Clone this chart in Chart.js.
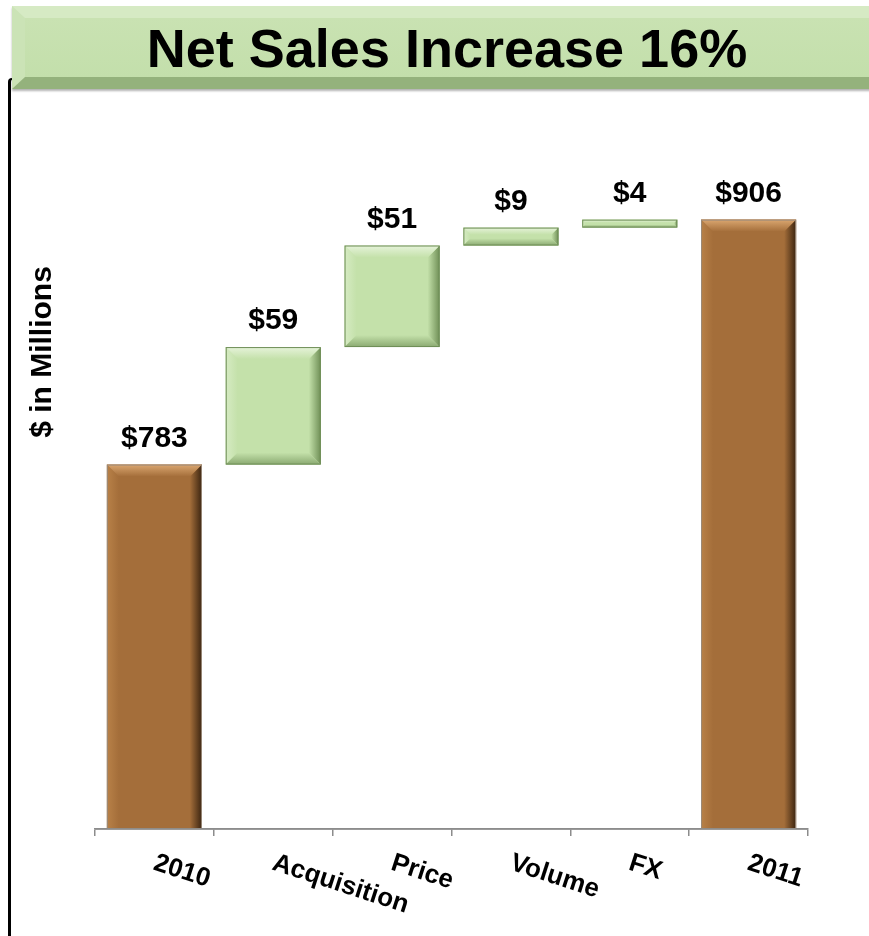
<!DOCTYPE html>
<html>
<head>
<meta charset="utf-8">
<script src="https://cdn.jsdelivr.net/npm/chart.js@4"></script>
<style>
html, body { margin: 0; padding: 0; background: #fff; width: 869px; height: 936px; overflow: hidden; }
#bracket { position: absolute; left: 8px; top: 78px; width: 8px; height: 880px; border-left: 3px solid #000; border-top: 2px solid #000; border-top-left-radius: 4px; box-sizing: border-box; }
#banner { position: absolute; left: 12px; top: 6px; width: 880px; height: 83px; box-sizing: border-box;
  border-style: solid; border-width: 12px 12px 12px 13px;
  border-color: #d6eac4 #9fbd87 #94b27c #cbe3b6;
  background: linear-gradient(#c9e2b2, #c3dfab);
  box-shadow: 0 2px 2px rgba(0,0,0,.3); }
#title { position: absolute; left: 0; top: 18px; width: 894px; height: 60px; line-height: 60px; text-align: center;
  font-family: "Liberation Sans", Arial, sans-serif; font-weight: bold; font-size: 54px; color: #000; }
#wrap { position: absolute; left: 0; top: 0; width: 869px; height: 936px; }
</style>
</head>
<body>
<div id="bracket"></div>
<div id="banner"></div>
<div id="title">Net Sales Increase 16%</div>
<div id="wrap"><canvas id="myChart"></canvas></div>
<script>
// waterfall data
const categories = ["2010", "Acquisition", "Price", "Volume", "FX", "2011"];
const amounts = [783, 59, 51, 9, 4, 906];
const isTotal = [true, false, false, false, false, true];
const valueLabels = ["$783", "$59", "$51", "$9", "$4", "$906"];
const yTitle = "$ in Millions";
const yMin = 600;
const yMax = 950;

// build floating bars from the running total
let running = 0;
const barData = amounts.map((v, i) => {
  if (isTotal[i]) { running = v; return v; }
  const start = running;
  running += v;
  return [start, running];
});

const brown = { base: "#a46e3a", top: "#dba771", left: "#b88148", right: "#3b2410", bottom: "#7a4e27", line: "#9a8a7a" };
const green = { base: "#c4e1aa", top: "#e6f3da", left: "#d6ebc3", right: "#6f8f56", bottom: "#8aa971", line: "#6e8d56" };

const FONT = '"Liberation Sans", Arial, sans-serif';

const decor = {
  id: "decor",
  afterDatasetsDraw(chart) {
    const ctx = chart.ctx;
    const meta = chart.getDatasetMeta(0);
    meta.data.forEach((bar, i) => {
      const c = isTotal[i] ? brown : green;
      const w = bar.width;
      const l = bar.x - w / 2, r = bar.x + w / 2;
      const t = Math.min(bar.y, bar.base), b = Math.max(bar.y, bar.base);
      const bv = Math.min(12, (b - t) / 2.5, w / 4);
      const bb = isTotal[i] ? 0 : bv;
      const poly = (pts, fill) => {
        ctx.beginPath();
        ctx.moveTo(pts[0][0], pts[0][1]);
        for (let k = 1; k < pts.length; k++) ctx.lineTo(pts[k][0], pts[k][1]);
        ctx.closePath();
        ctx.fillStyle = fill;
        ctx.fill();
      };
      const grad = (x0, y0, x1, y1, a, z) => {
        const g = ctx.createLinearGradient(x0, y0, x1, y1);
        g.addColorStop(0, a);
        g.addColorStop(1, z);
        return g;
      };
      ctx.save();
      poly([[l, t], [l + bv, t + bv], [l + bv, b - bb], [l, b]], grad(l, 0, l + bv, 0, c.left, c.base));
      poly([[r, t], [r, b], [r - bv, b - bb], [r - bv, t + bv]], grad(r - bv, 0, r, 0, c.base, c.right));
      poly([[l, t], [r, t], [r - bv, t + bv], [l + bv, t + bv]], grad(0, t, 0, t + bv, c.top, c.base));
      if (bb > 0) poly([[l, b], [r, b], [r - bb, b - bb], [l + bb, b - bb]], grad(0, b - bb, 0, b, c.base, c.bottom));
      ctx.strokeStyle = c.line;
      ctx.lineWidth = 1;
      ctx.strokeRect(l + 0.5, t + 0.5, w - 1, b - t - 1);
      // value label
      ctx.fillStyle = "#000";
      ctx.font = "bold 30px " + FONT;
      ctx.textAlign = "center";
      ctx.textBaseline = "alphabetic";
      ctx.fillText(valueLabels[i], bar.x, t - 18);
      ctx.restore();
    });
    // axis line sits on top of the bars
    const x = chart.scales.x;
    ctx.save();
    ctx.strokeStyle = "#8c8c8c";
    ctx.lineWidth = 1.5;
    ctx.beginPath();
    ctx.moveTo(x.left, x.top);
    ctx.lineTo(x.right, x.top);
    ctx.stroke();
    ctx.restore();
  },
  afterDraw(chart) {
    const ctx = chart.ctx;
    const x = chart.scales.x;
    ctx.save();
    ctx.fillStyle = "#000";
    ctx.font = "bold 26px " + FONT;
    ctx.textAlign = "left";
    ctx.textBaseline = "top";
    categories.forEach((c, i) => {
      ctx.save();
      ctx.translate(x.getPixelForValue(i) + 4, 850);
      ctx.rotate(18 * Math.PI / 180);
      ctx.fillText(c, 0, 0);
      ctx.restore();
    });
    ctx.translate(43, 352);
    ctx.rotate(-Math.PI / 2);
    ctx.font = "bold 30px " + FONT;
    ctx.textAlign = "center";
    ctx.textBaseline = "middle";
    ctx.fillText(yTitle, 0, 0);
    ctx.restore();
  }
};

const ctx = document.getElementById("myChart");

new Chart(ctx, {
  type: "bar",
  data: {
    labels: categories,
    datasets: [
      {
        data: barData,
        base: yMin,
        backgroundColor: isTotal.map((t) => (t ? brown.base : green.base)),
        borderWidth: 0,
        borderSkipped: false,
        categoryPercentage: 1,
        barPercentage: 0.8,
      },
    ],
  },
  options: {
    responsive: true,
    maintainAspectRatio: false,
    animation: false,
    layout: { padding: { left: 95, right: 61, top: 132, bottom: 0 } },
    plugins: { legend: { display: false }, tooltip: { enabled: false } },
    scales: {
      x: {
        grid: { display: true, drawOnChartArea: false, drawTicks: true, tickLength: 7, color: "#8c8c8c", lineWidth: 1.5, offset: true },
        border: { display: true, color: "#8c8c8c", width: 1.5 },
        ticks: { display: false },
        afterFit: (scale) => { scale.height = 107; },
      },
      y: {
        display: false,
        min: yMin,
        max: yMax,
      },
    },
  },
  plugins: [decor],
});
</script>
</body>
</html>
